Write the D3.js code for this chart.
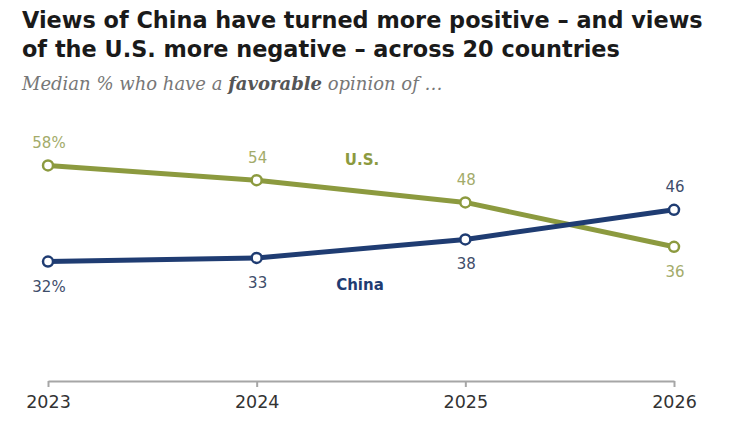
<!DOCTYPE html>
<html>
<head>
<meta charset="utf-8">
<script src="https://cdn.jsdelivr.net/npm/d3@7"></script>
<style>
  body { margin: 0; background: #fff; }
  svg { display: block; }
</style>
</head>
<body>
<svg id="chart"></svg>
<script>
var years = ['2023', '2024', '2025', '2026']
var usValues = [58, 54, 48, 36]
var chinaValues = [32, 33, 38, 46]
var usLabels = ['58%', '54', '48', '36']
var chinaLabels = ['32%', '33', '38', '46']
// where each value label sits relative to its point: -1 above, 1 below
var usLabelSide = [-1, -1, -1, 1]
var chinaLabelSide = [1, 1, 1, -1]
var titleLines = ['Views of China have turned more positive \u2013 and views',
                  'of the U.S. more negative \u2013 across 20 countries']

var screen = { width: 750, height: 430 }
var margins = { top: 10, bottom: 50, left: 48, right: 76 }

var usColor = '#8c9a3f'
var usText = '#a3ab6a'
var chinaColor = '#1f3c72'
var chinaText = '#3e4d6a'
var sans = '"DejaVu Sans", Verdana, sans-serif'

var svg = d3.select('#chart')
  .attr('width', screen.width)
  .attr('height', screen.height)

// title + subtitle
var title = svg.append('g')
var titleText = title.selectAll('text')
  .data(titleLines)
  .enter().append('text')
  .attr('x', 22)
  .attr('y', function (d, i) { return 28 + i * 29 })
  .attr('font-family', sans)
  .attr('font-weight', 'bold')
  .attr('font-size', 20)
  .attr('fill', '#1a1a1a')
  .text(function (d) { return d })
// fit first title line to the reference width
var w0 = titleText.nodes()[0].getComputedTextLength()
titleText.attr('font-size', 20 * 681 / w0)

var sub = svg.append('text')
  .attr('x', 22)
  .attr('y', 90)
  .attr('font-family', '"DejaVu Serif", Georgia, serif')
  .attr('font-style', 'italic')
  .attr('font-size', 15)
  .attr('fill', '#777')
sub.append('tspan').text('Median % who have a ')
sub.append('tspan').attr('font-weight', 'bold').attr('fill', '#555').text('favorable')
sub.append('tspan').text(' opinion of \u2026')
var ws = sub.node().getComputedTextLength()
sub.attr('font-size', Math.min(18.5, 15 * 421 / ws))

var x = d3.scalePoint()
  .domain(years)
  .range([margins.left, screen.width - margins.right])

var y = d3.scaleLinear()
  .domain([0, 100])
  .range([380, 10])

// axis
var axis = svg.append('g')
  .attr('transform', 'translate(0,381)')
  .call(d3.axisBottom(x).tickSizeInner(6).tickSizeOuter(0).tickPadding(9))
axis.select('.domain').attr('stroke', '#a6a6a6').attr('stroke-width', 2)
axis.selectAll('.tick line').attr('stroke', '#a6a6a6').attr('stroke-width', 2)
axis.selectAll('.tick text')
  .attr('font-family', sans)
  .attr('font-size', 17.5)
  .attr('fill', '#333')

var line = d3.line()
  .x(function (d) { return x(d.year) })
  .y(function (d) { return y(d.value) })

var series = [
  { name: 'U.S.', values: usValues, labels: usLabels, sides: usLabelSide, color: usColor, text: usText },
  { name: 'China', values: chinaValues, labels: chinaLabels, sides: chinaLabelSide, color: chinaColor, text: chinaText }
]

series.forEach(function (s) {
  var pts = s.values.map(function (v, i) {
    return { year: years[i], value: v, label: s.labels[i], side: s.sides[i] }
  })
  var g = svg.append('g')
  g.append('path')
    .datum(pts)
    .attr('d', line)
    .attr('fill', 'none')
    .attr('stroke', s.color)
    .attr('stroke-width', 5)
    .attr('stroke-linejoin', 'round')
  g.selectAll('circle')
    .data(pts)
    .enter().append('circle')
    .attr('cx', function (d) { return x(d.year) })
    .attr('cy', function (d) { return y(d.value) })
    .attr('r', 5)
    .attr('fill', '#fff')
    .attr('stroke', s.color)
    .attr('stroke-width', 2.5)
  g.selectAll('text')
    .data(pts)
    .enter().append('text')
    .attr('x', function (d) { return x(d.year) + 1 })
    .attr('y', function (d) { return y(d.value) + (d.side < 0 ? -17.5 : 30) })
    .attr('text-anchor', 'middle')
    .attr('font-family', sans)
    .attr('font-size', 15)
    .attr('fill', s.text)
    .text(function (d) { return d.label })
})

// series names
svg.append('text')
  .attr('x', 362).attr('y', 165)
  .attr('text-anchor', 'middle')
  .attr('font-family', sans)
  .attr('font-weight', 'bold')
  .attr('font-size', 15)
  .attr('fill', usColor)
  .text('U.S.')

svg.append('text')
  .attr('x', 360).attr('y', 290)
  .attr('text-anchor', 'middle')
  .attr('font-family', sans)
  .attr('font-weight', 'bold')
  .attr('font-size', 15)
  .attr('fill', chinaColor)
  .text('China')
</script>
</body>
</html>
